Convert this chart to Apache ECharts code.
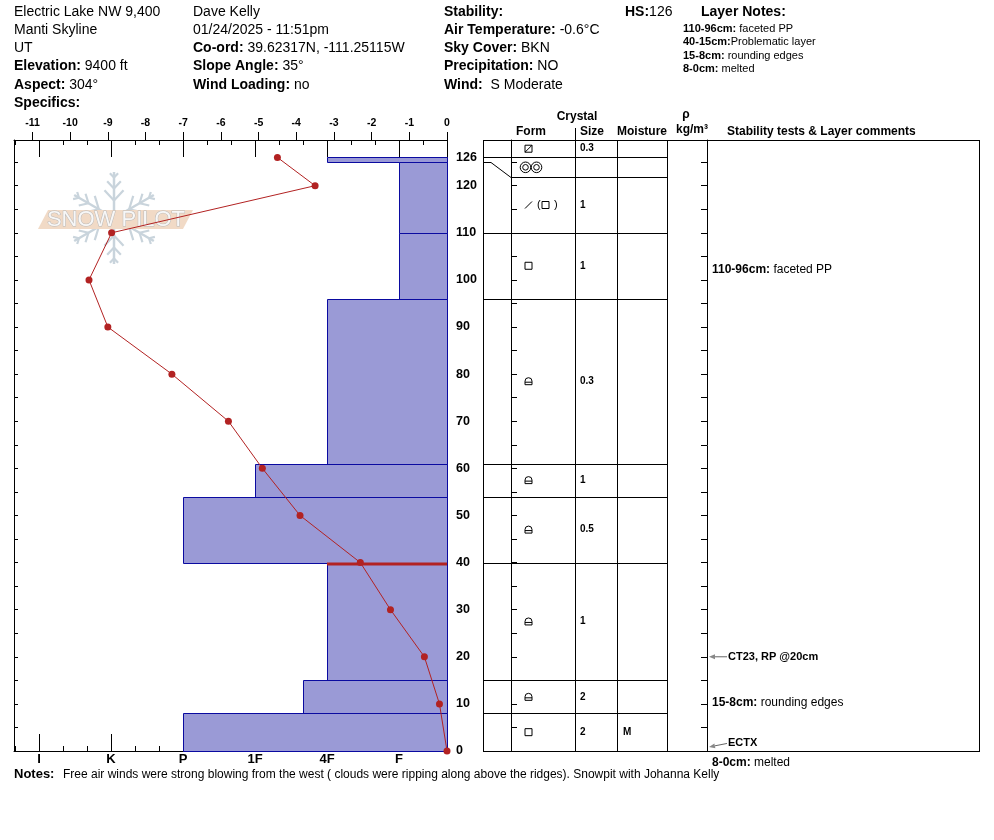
<!DOCTYPE html>
<html>
<head>
<meta charset="utf-8">
<script src="https://cdn.jsdelivr.net/npm/echarts@6/dist/echarts.min.js"></script>
<style>
html, body { margin: 0; padding: 0; background: #fff; }
#pit { width: 994px; height: 840px; }
</style>
</head>
<body>
<div id="pit"></div>
<script>
// temperature profile (depth cm, deg C)
const tempDepths = [126, 120, 110, 100, 90, 80, 70, 60, 50, 40, 30, 20, 10, 0];
const tempValues = [-4.5, -3.5, -8.9, -9.5, -9.0, -7.3, -5.8, -4.9, -3.9, -2.3, -1.5, -0.6, -0.2, 0];

// layers: hardness index counted from the right edge (F=2, 4F=5, 4F+=6, 1F=8, P=11)
const layerTops = [126, 125, 110, 96, 61, 54, 40, 15, 8];
const layerBottoms = [125, 110, 96, 61, 54, 40, 15, 8, 0];
const layerHardness = [5, 2, 2, 5, 8, 11, 5, 6, 11];
const problemDepths = [40];

// tick labels
const hardTicks = [2, 5, 8, 11, 14, 17];
const hardNames = ['F', '4F', '1F', 'P', 'K', 'I'];
const tempTicks = [-11, -10, -9, -8, -7, -6, -5, -4, -3, -2, -1, 0];
const depthLabels = [0, 10, 20, 30, 40, 50, 60, 70, 80, 90, 100, 110, 120, 126];

// crystal table (rows as shown, top row stretched)
const rowTops = [129.7, 126, 121.8, 110, 96, 61, 54, 40, 15, 8];
const rowBottoms = [126, 121.8, 110, 96, 61, 54, 40, 15, 8, 0];
const rowForms = ['sqd', 'mf', 'ppfc', 'sq', 'fcxr', 'fcxr', 'fcxr', 'fcxr', 'fcxr', 'sq'];
const rowSizes = ['0.3', '', '1', '1', '0.3', '1', '0.5', '1', '2', '2'];
const rowMoist = ['', '', '', '', '', '', '', '', '', 'M'];
const lineDepths = [126, 125, 110, 96, 61, 54, 40, 15, 8];
const lineShown = [126, 121.8, 110, 96, 61, 54, 40, 15, 8];

// comments column
const commentLabels = ['110-96cm:', '15-8cm:', '8-0cm:'];
const commentTexts = ['faceted PP', 'rounding edges', 'melted'];
const commentDepths = [102.1, 10.3, -2.4];
const testLabels = ['CT23, RP @20cm', 'ECTX'];
const testDepths = [20, 0.85];
const testLabelDepths = [20, 1.6];

// header
const headCol1 = ['Electric Lake NW 9,400', 'Manti Skyline', 'UT', '{b|Elevation:} 9400 ft', '{b|Aspect:} 304°', '{b|Specifics:}'];
const headCol2 = ['Dave Kelly', '01/24/2025 - 11:51pm', '{b|Co-ord:} 39.62317N, -111.25115W', '{b|Slope Angle:} 35°', '{b|Wind Loading:} no'];
const headCol3 = ['{b|Stability:}', '{b|Air Temperature:} -0.6°C', '{b|Sky Cover:} BKN', '{b|Precipitation:} NO', '{b|Wind:}  S Moderate'];
const layerNotes = ['{b|110-96cm:} faceted PP', '{b|40-15cm:}Problematic layer', '{b|15-8cm:} rounding edges', '{b|8-0cm:} melted'];
const notesText = 'Free air winds were strong blowing from the west ( clouds were ripping along above the ridges). Snowpit with Johanna Kelly';

const FONT = '"Liberation Sans", Arial, sans-serif';
const RED = '#b22222';

function txt(x, y, text, size, opts) {
    opts = opts || {};
    return {
        type: 'text', x: x, y: y, silent: true, z: 10,
        style: {
            text: text, fill: '#000', fontSize: size, fontFamily: FONT,
            fontWeight: opts.bold ? 'bold' : 'normal',
            align: opts.align || 'left', verticalAlign: 'middle',
            rich: { b: { fontWeight: 'bold', fontSize: size, fontFamily: FONT, fill: '#000' } }
        }
    };
}
function ln(x1, y1, x2, y2, color, w) {
    return { type: 'line', silent: true, z: 10, shape: { x1: x1, y1: y1, x2: x2, y2: y2 },
        style: { stroke: color || '#000', lineWidth: w || 1 } };
}

let graphics = [];
headCol1.forEach((t, i) => graphics.push(txt(14, 12 + i * 18.2, t, 14)));
headCol2.forEach((t, i) => graphics.push(txt(193, 12 + i * 18.2, t, 14)));
headCol3.forEach((t, i) => graphics.push(txt(444, 12 + i * 18.2, t, 14)));
graphics.push(txt(625, 12, '{b|HS:}126', 14));
graphics.push(txt(701, 12, 'Layer Notes:', 14, { bold: true }));
layerNotes.forEach((t, i) => graphics.push(txt(683, 29 + i * 13.4, t, 11)));

// table header
graphics.push(txt(577, 117, 'Crystal', 12, { bold: true, align: 'center' }));
graphics.push(txt(516, 132, 'Form', 12, { bold: true }));
graphics.push(txt(580, 132, 'Size', 12, { bold: true }));
graphics.push(txt(617, 132, 'Moisture', 12, { bold: true }));
graphics.push(txt(686, 115, 'ρ', 12, { bold: true, align: 'center' }));
graphics.push(txt(676, 130, 'kg/m³', 12, { bold: true }));
graphics.push(txt(727, 132, 'Stability tests & Layer comments', 12, { bold: true }));

// notes
graphics.push(txt(14, 774, 'Notes:', 13, { bold: true }));
graphics.push(txt(63, 775, notesText, 12));

// table frame
graphics.push(ln(483, 140.5, 979, 140.5));
graphics.push(ln(483, 751.5, 979, 751.5));
[483.5, 575.5, 617.5, 667.5, 979.5].forEach(x => graphics.push(ln(x, 140, x, 752)));
graphics.push(ln(575.5, 128, 575.5, 140));

// snow pilot logo
(function () {
    const cx = 114, cy = 218, len = 46;
    const col = '#c9d4dc';
    for (let k = 0; k < 6; k++) {
        const a = Math.PI / 2 + k * Math.PI / 3;
        const dx = Math.cos(a), dy = -Math.sin(a);
        graphics.push(Object.assign(ln(cx, cy, cx + dx * len, cy + dy * len, col, 2.5), { z: 1 }));
        [0.38, 0.64, 0.88].forEach((f, j) => {
            const bx = cx + dx * len * f, by = cy + dy * len * f;
            const bl = [14, 10, 6][j];
            [0.75, -0.75].forEach(off => {
                graphics.push(Object.assign(ln(bx, by, bx + bl * Math.cos(a + off), by - bl * Math.sin(a + off), col, 2.2), { z: 1 }));
            });
        });
    }
    graphics.push({ type: 'polygon', silent: true, z: 2, shape: { points: [[38, 229], [48, 210], [193, 210], [183, 229]] },
        style: { fill: '#f1dac6' } });
    graphics.push({ type: 'text', silent: true, z: 3, x: 116, y: 220,
        style: { text: 'SNOW PILOT', fontSize: 22, fontFamily: FONT, fill: '#f7f7f7', stroke: '#b9b9b9', lineWidth: 1,
            align: 'center', verticalAlign: 'middle' } });
})();

function formShape(code, x, yc) {
    const st = { fill: null, stroke: '#000', lineWidth: 1 };
    const box = (px, pathData) => ({ type: 'path', shape: { pathData: pathData, x: px, y: yc - 3.5, width: 7, height: 7 }, style: st });
    if (code === 'sq') return [box(x, 'M0 0H7V7H0Z')];
    if (code === 'sqd') return [box(x, 'M0 0H7V7H0Z M0 7L7 0')];
    if (code === 'fcxr') return [box(x, 'M0 7V3.5A3.5 3.5 0 0 1 7 3.5V7Z M0 4.5H7')];
    if (code === 'mf') {
        return [
            { type: 'circle', shape: { cx: x + 0.5, cy: yc, r: 5.3 }, style: st },
            { type: 'circle', shape: { cx: x + 0.5, cy: yc, r: 2.8 }, style: st },
            { type: 'circle', shape: { cx: x + 11.5, cy: yc, r: 5.3 }, style: st },
            { type: 'circle', shape: { cx: x + 11.5, cy: yc, r: 2.8 }, style: st }
        ];
    }
    if (code === 'ppfc') {
        return [
            { type: 'line', shape: { x1: x, y1: yc + 3.5, x2: x + 7, y2: yc - 3.5 }, style: { stroke: '#000', lineWidth: 1 } },
            { type: 'text', x: x + 12, y: yc, style: { text: '(', fontSize: 11, fontFamily: FONT, fill: '#000', verticalAlign: 'middle' } },
            box(x + 17, 'M0 0H7V7H0Z'),
            { type: 'text', x: x + 29, y: yc, style: { text: ')', fontSize: 11, fontFamily: FONT, fill: '#000', verticalAlign: 'middle' } }
        ];
    }
    return [];
}

const chart = echarts.init(document.getElementById('pit'));

const hardAxisBase = {
    gridIndex: 0, type: 'value', inverse: true, min: 0, max: 18.04,
    splitLine: { show: false }
};

const option = {
    animation: false,
    backgroundColor: '#fff',
    grid: [
        { left: 14, top: 140, width: 433, height: 611, outerBoundsMode: 'none', containLabel: false },
        { left: 483, top: 140, width: 496, height: 611, outerBoundsMode: 'none', containLabel: false }
    ],
    xAxis: [
        {   // temperature
            gridIndex: 0, type: 'value', position: 'top', min: -11.49, max: 0,
            axisLine: { show: true, onZero: false, lineStyle: { color: '#000', width: 1 } },
            axisTick: { show: true, customValues: tempTicks, length: 8, inside: false, lineStyle: { color: '#000' } },
            axisLabel: { customValues: tempTicks, fontSize: 10.5, fontWeight: 'bold', color: '#000', margin: 11, fontFamily: FONT },
            splitLine: { show: false }
        },
        Object.assign({}, hardAxisBase, {   // hardness bottom, minor ticks + labels
            position: 'bottom', interval: 1,
            axisLine: { show: true, onZero: false, lineStyle: { color: '#000', width: 1 } },
            axisTick: { show: true, inside: true, length: 5, lineStyle: { color: '#000' } },
            axisLabel: { customValues: hardTicks, formatter: v => hardNames[hardTicks.indexOf(v)],
                fontSize: 13, fontWeight: 'bold', color: '#000', margin: 2, fontFamily: FONT }
        }),
        Object.assign({}, hardAxisBase, {   // hardness bottom, major ticks
            position: 'bottom',
            axisLine: { show: false, onZero: false },
            axisTick: { show: true, inside: true, length: 17, customValues: hardTicks, lineStyle: { color: '#000' } },
            axisLabel: { show: false }
        }),
        Object.assign({}, hardAxisBase, {   // hardness top, minor ticks
            position: 'top', interval: 1,
            axisLine: { show: false, onZero: false },
            axisTick: { show: true, inside: true, length: 5, lineStyle: { color: '#000' } },
            axisLabel: { show: false }
        }),
        Object.assign({}, hardAxisBase, {   // hardness top, major ticks
            position: 'top',
            axisLine: { show: false, onZero: false },
            axisTick: { show: true, inside: true, length: 17, customValues: hardTicks, lineStyle: { color: '#000' } },
            axisLabel: { show: false }
        }),
        {   // table pixel axis
            gridIndex: 1, type: 'value', min: 0, max: 496, show: false
        }
    ],
    yAxis: [
        {   // depth, right of profile
            gridIndex: 0, type: 'value', position: 'right', min: 0, max: 129.7, interval: 5,
            axisLine: { show: true, onZero: false, lineStyle: { color: '#000', width: 1 } },
            axisTick: { show: true, inside: true, length: 4, lineStyle: { color: '#000' } },
            axisLabel: { customValues: depthLabels, fontSize: 12.5, fontWeight: 'bold', color: '#000', margin: 9, fontFamily: FONT },
            splitLine: { show: false }
        },
        {   // depth, left border
            gridIndex: 0, type: 'value', position: 'left', min: 0, max: 129.7, interval: 5,
            axisLine: { show: true, onZero: false, lineStyle: { color: '#000', width: 1 } },
            axisTick: { show: true, inside: true, length: 4, lineStyle: { color: '#000' } },
            axisLabel: { show: false }, splitLine: { show: false }
        },
        {   // table, form column line
            gridIndex: 1, type: 'value', position: 'left', offset: -28, min: 0, max: 129.7, interval: 5,
            axisLine: { show: true, onZero: false, lineStyle: { color: '#000', width: 1 } },
            axisTick: { show: true, inside: true, length: 6, lineStyle: { color: '#000' } },
            axisLabel: { show: false }, splitLine: { show: false }
        },
        {   // table, comments column line
            gridIndex: 1, type: 'value', position: 'right', offset: -272, min: 0, max: 129.7, interval: 5,
            axisLine: { show: true, onZero: false, lineStyle: { color: '#000', width: 1 } },
            axisTick: { show: true, inside: true, length: 6, lineStyle: { color: '#000' } },
            axisLabel: { show: false }, splitLine: { show: false }
        }
    ],
    graphic: graphics,
    series: [
        {   // hardness bars
            type: 'custom', xAxisIndex: 1, yAxisIndex: 0, clip: false, z: 2,
            data: layerTops.map((t, i) => [t, layerBottoms[i], layerHardness[i]]),
            renderItem: function (params, api) {
                const p1 = api.coord([api.value(2), api.value(0)]);
                const p2 = api.coord([0, api.value(1)]);
                return {
                    type: 'rect',
                    shape: { x: Math.round(p1[0]) + 0.5, y: Math.round(p1[1]) + 0.5,
                        width: Math.round(p2[0]) - Math.round(p1[0]), height: Math.round(p2[1]) - Math.round(p1[1]) },
                    style: { fill: '#9a9ad6', stroke: '#0a0aa0', lineWidth: 1 }
                };
            }
        },
        {   // problematic interface
            type: 'custom', xAxisIndex: 1, yAxisIndex: 0, clip: false, z: 3,
            data: problemDepths.map(d => [d, layerHardness[layerTops.indexOf(d)]]),
            renderItem: function (params, api) {
                const a = api.coord([api.value(1), api.value(0)]);
                const b = api.coord([0, api.value(0)]);
                return { type: 'line', shape: { x1: a[0], y1: a[1] + 1.5, x2: b[0], y2: b[1] + 1.5 },
                    style: { stroke: RED, lineWidth: 3 } };
            }
        },
        {   // temperature
            type: 'line', xAxisIndex: 0, yAxisIndex: 0, z: 5,
            data: tempValues.map((t, i) => [t, tempDepths[i]]),
            symbol: 'circle', symbolSize: 7,
            lineStyle: { color: RED, width: 1 },
            itemStyle: { color: RED, borderWidth: 0 },
            emphasis: { disabled: true }
        },
        {   // table row boundaries
            type: 'custom', xAxisIndex: 5, yAxisIndex: 2, clip: false, z: 3,
            data: lineDepths.map((d, i) => [d, lineShown[i]]),
            renderItem: function (params, api) {
                const real = api.value(0), shown = api.value(1);
                const pts = [api.coord([0, real]), api.coord([8, real]), api.coord([28, shown]), api.coord([184, shown])]
                    .map(p => [p[0], Math.round(p[1]) + 0.5]);
                return { type: 'polyline', shape: { points: pts }, style: { stroke: '#000', lineWidth: 1, fill: null } };
            }
        },
        {   // table cells
            type: 'custom', xAxisIndex: 5, yAxisIndex: 2, clip: false, z: 3,
            data: rowTops.map((t, i) => [t, rowBottoms[i], i]),
            renderItem: function (params, api) {
                const i = api.value(2);
                const mid = (api.value(0) + api.value(1)) / 2;
                const pf = api.coord([rowForms[i] === 'mf' ? 41 : 42, mid]);
                const ps = api.coord([97, mid]);
                const pm = api.coord([140, mid]);
                const fx = rowForms[i] === 'mf' ? pf[0] + 1 : pf[0];
                const kids = formShape(rowForms[i], fx, pf[1]);
                kids.push({ type: 'text', x: ps[0], y: ps[1], style: { text: rowSizes[i], fontSize: 10, fontWeight: 'bold', fontFamily: FONT, fill: '#000', verticalAlign: 'middle' } });
                kids.push({ type: 'text', x: pm[0], y: pm[1], style: { text: rowMoist[i], fontSize: 10, fontWeight: 'bold', fontFamily: FONT, fill: '#000', verticalAlign: 'middle' } });
                return { type: 'group', children: kids };
            }
        },
        {   // layer comments
            type: 'custom', xAxisIndex: 5, yAxisIndex: 2, clip: false, z: 3,
            data: commentDepths.map((d, i) => [i, d]),
            renderItem: function (params, api) {
                const i = api.value(0);
                const p = api.coord([229, api.value(1)]);
                return { type: 'text', x: p[0], y: p[1], style: {
                    text: '{b|' + commentLabels[i] + '} ' + commentTexts[i], fontSize: 12, fontFamily: FONT, fill: '#000',
                    verticalAlign: 'middle',
                    rich: { b: { fontWeight: 'bold', fontSize: 12, fontFamily: FONT, fill: '#000' } } } };
            }
        },
        {   // stability tests
            type: 'custom', xAxisIndex: 5, yAxisIndex: 2, clip: false, z: 3,
            data: testDepths.map((d, i) => [i, d, testLabelDepths[i]]),
            renderItem: function (params, api) {
                const i = api.value(0);
                const head = api.coord([226, api.value(1)]);
                const tail = api.coord([244, api.value(2)]);
                const ang = Math.atan2(head[1] - tail[1], head[0] - tail[0]);
                const hl = 6, hw = 2.5;
                const bx = head[0] - hl * Math.cos(ang), by = head[1] - hl * Math.sin(ang);
                return { type: 'group', children: [
                    { type: 'line', shape: { x1: tail[0], y1: tail[1], x2: bx, y2: by }, style: { stroke: '#666', lineWidth: 1 } },
                    { type: 'polygon', shape: { points: [head,
                        [bx + hw * Math.sin(ang), by - hw * Math.cos(ang)],
                        [bx - hw * Math.sin(ang), by + hw * Math.cos(ang)]] }, style: { fill: '#888' } },
                    { type: 'text', x: tail[0] + 1, y: tail[1], style: { text: testLabels[i], fontSize: 11, fontWeight: 'bold',
                        fontFamily: FONT, fill: '#000', verticalAlign: 'middle' } }
                ] };
            }
        }
    ]
};
chart.setOption(option);
</script>
</body>
</html>
